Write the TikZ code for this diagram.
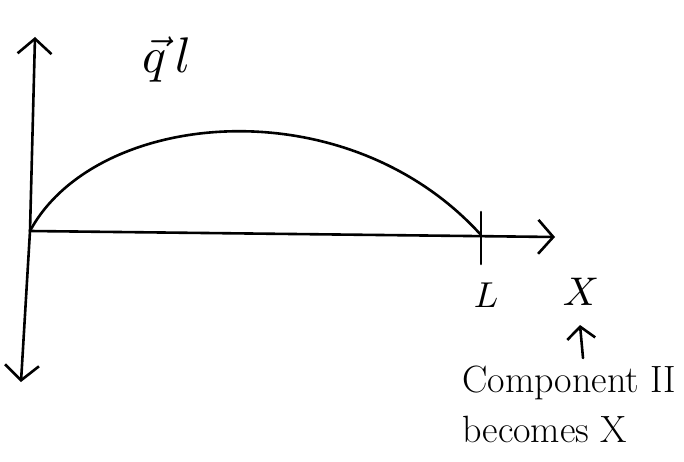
\documentclass[tikz,border=0pt]{standalone}
\usepackage{fontspec}
\usepackage{graphicx}
\usetikzlibrary{arrows.meta}
\begin{document}
\begin{tikzpicture}[x=1pt,y=-1pt,
  pen/.style={line width=2.6pt,line cap=round,line join=round},
  tipped/.style={pen,-{Straight Barb[length=15pt,width=34pt,line width=2.6pt]}},
  lbl/.style={inner sep=0pt,font=\fontsize{38}{50}\selectfont}]
\useasboundingbox (0,0) rectangle (684,462);
\coordinate (O) at (30,231);
\coordinate (top) at (35,37);
\coordinate (bot) at (21,382);
\coordinate (xend) at (555,237);
\coordinate (Lpt) at (481,235);
\coordinate (Ltop) at (481,212);
\coordinate (Lbot) at (481,264);
\draw[tipped] (O) -- (top);
\draw[tipped] (O) -- (bot);
\draw[tipped] (O) -- (xend);
\draw[pen] (Ltop) -- (Lbot);
\draw[pen] (O) .. controls (95,110) and (345,85) .. (Lpt);
\node[inner sep=0pt] (q) at (167,60) {\scalebox{5}{$\vec{q}\,l$}};
\node[inner sep=0pt] (L) at (486,295) {\scalebox{3.6}{$L$}};
\node[inner sep=0pt] (X) at (581,292) {\scalebox{4}{$X$}};
\node[lbl,align=left,anchor=north west] (comp) at (462,366) {Component II\\becomes X};
\coordinate (arrs) at (583,358);
\coordinate (arre) at (580,325);
\draw[pen,-{Straight Barb[length=12pt,width=28pt,line width=2.6pt]}] (arrs) -- (arre);
\end{tikzpicture}
\end{document}
